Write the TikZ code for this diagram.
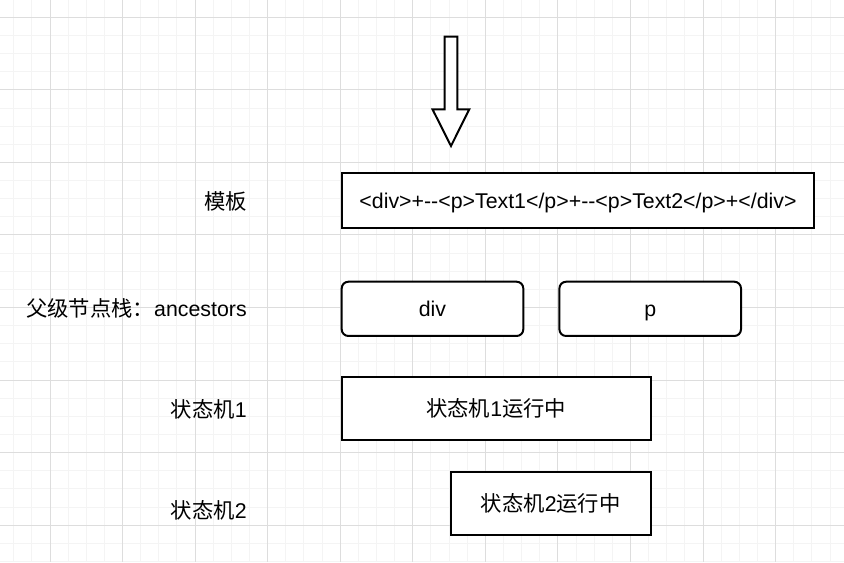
\documentclass[tikz,border=0pt]{standalone}
\usepackage{fontspec}
\setmainfont{Liberation Sans}
\newfontfamily\cjk{Noto Sans CJK SC}
\usepackage{tikz}
\usetikzlibrary{arrows}
\definecolor{gridmajor}{HTML}{DDDDDD}
\definecolor{gridminor}{HTML}{F4F4F4}
\tikzstyle{minorline}=[draw, color=gridminor, line width=0.75pt]
\tikzstyle{majorline}=[draw, color=gridmajor, line width=0.75pt]
\tikzstyle{plainbox}=[draw, line width=1.5pt, fill=white, text centered,
  inner sep=0pt, text height=14pt, text depth=2.2pt,
  font=\fontsize{16}{19}\selectfont]
\tikzstyle{stackbox}=[plainbox, rounded corners=5pt, minimum width=136.2pt,
  minimum height=40.7pt]
\tikzstyle{rowlabel}=[anchor=east, inner sep=0pt,
  font=\fontsize{16}{19}\selectfont]
\newcommand{\rowtext}[3]{node (r#1) [rowlabel] at (247,#2) {#3}}

\begin{document}
\begin{tikzpicture}[x=0.75pt,y=-0.75pt]
  \useasboundingbox (0,0) rectangle (844,562);

  % Grid in the back
  \foreach \i in {-2,...,44}
    \path [minorline] ({50+\i*18.14},0) -- ({50+\i*18.14},562);
  \foreach \i in {-1,...,30}
    \path [minorline] (0,{17.3+\i*18.14}) -- (844,{17.3+\i*18.14});
  \foreach \i in {0,...,10}
    \path [majorline] ({50+\i*72.56},0) -- ({50+\i*72.56},562);
  \foreach \i in {0,...,7}
    \path [majorline] (0,{17.3+\i*72.56}) -- (844,{17.3+\i*72.56});

  % Big arrow on top
  \path [draw, line width=1.5pt, fill=white]
    (444.5,36.5) -- (457.3,36.5) -- (457.3,109.3) -- (469.3,109.3)
    -- (451,146) -- (432.5,109.3) -- (444.5,109.3) -- cycle;

  % Boxes
  \node (tpl) [plainbox, minimum width=354.2pt, minimum height=41.25pt]
    at (578,200.2) {<div>+-{}-<p>Text1</p>+-{}-<p>Text2</p>+</div>};
  \node (s1) [stackbox] at (432.5,308.85) {div};
  \node (s2) [stackbox] at (650.2,308.85) {p};
  \node (m1) [plainbox, minimum width=231.75pt, minimum height=47.7pt]
    at (496.2,408.5) {{\cjk 状态机}1{\cjk 运行中}};
  \node (m2) [plainbox, minimum width=150pt, minimum height=47.25pt]
    at (550.7,503.5) {{\cjk 状态机}2{\cjk 运行中}};

  % Row labels
  \path \rowtext{1}{201.5}{{\cjk 模板}};
  \path \rowtext{2}{308.5}{{\cjk 父级节点栈：}ancestors};
  \path \rowtext{3}{409.3}{{\cjk 状态机}1};
  \path \rowtext{4}{510}{{\cjk 状态机}2};
\end{tikzpicture}
\end{document}
